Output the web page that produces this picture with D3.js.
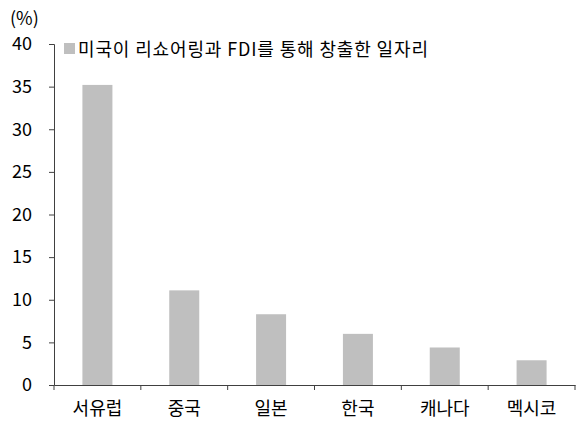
<!DOCTYPE html>
<html><head><meta charset="utf-8">
<script src="https://cdn.jsdelivr.net/npm/d3@7"></script>
<style>body{margin:0;background:#fff}svg{display:block;font-family:"Noto Sans CJK KR","Noto Sans",sans-serif}</style>
</head><body><svg id="c" width="580" height="423"></svg>
<script>
const categories = ["서유럽","중국","일본","한국","캐나다","멕시코"];
const values = [35.2, 11.1, 8.3, 6.0, 4.4, 2.9];
const yTicks = [0,5,10,15,20,25,30,35,40];
const seriesName = "미국이 리쇼어링과 FDI를 통해 창출한 일자리";
const unitLabel = "(%)";

const FONT = '"Noto Sans CJK KR","Noto Sans",sans-serif';
const svg = d3.select("#c");
const m = {l:54, r:575, t:44, b:385};
const xb = d3.scaleBand().domain(categories).range([m.l, m.r]);
const y = d3.scaleLinear().domain([0,40]).range([m.b, m.t]);
const axisColor = "#404040";

svg.append("g").selectAll("rect").data(values).join("rect")
  .attr("x",(d,i)=>xb(categories[i]) + xb.bandwidth()/2 - 15)
  .attr("width",30)
  .attr("y",d=>y(d)).attr("height",d=>y(0)-y(d))
  .attr("fill","#bfbfbf");

// y axis
const ya = svg.append("g").attr("transform",`translate(${m.l},0)`)
  .call(d3.axisLeft(y).tickValues(yTicks).tickSize(5).tickPadding(17))
  .attr("font-family",FONT);
ya.select(".domain").attr("stroke",axisColor);
ya.selectAll(".tick line").attr("stroke",axisColor);
ya.selectAll(".tick text").attr("font-size",18).attr("fill","#000");

// x axis
const xa = svg.append("g").attr("transform",`translate(0,${m.b})`)
  .call(d3.axisBottom(xb).tickSize(0).tickPadding(17))
  .attr("font-family",FONT);
xa.select(".domain").attr("stroke",axisColor);
xa.selectAll(".tick text").attr("font-size",18).attr("fill","#000");
// boundary ticks
const bounds = categories.map(c=>xb(c)).concat([xb(categories[categories.length-1])+xb.bandwidth()]);
svg.append("g").selectAll("line").data(bounds).join("line")
  .attr("x1",d=>d).attr("x2",d=>d).attr("y1",m.b).attr("y2",m.b+5)
  .attr("stroke",axisColor);

// unit
svg.append("text").attr("x",10).attr("y",25).attr("font-size",18).attr("font-family",FONT).text(unitLabel);

// legend
svg.append("rect").attr("x",64).attr("y",43).attr("width",11).attr("height",11).attr("fill","#bfbfbf");
svg.append("text").attr("x",78).attr("y",56).attr("font-size",18).attr("font-family",FONT)
  .attr("textLength",350).attr("lengthAdjust","spacing").text(seriesName);
</script></body></html>
